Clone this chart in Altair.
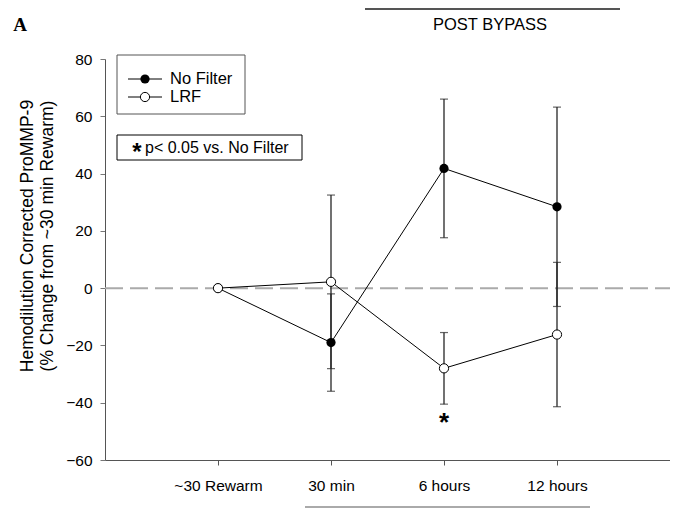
import altair as alt
import pandas as pd

time_pos = [1, 2, 3, 4]
time_labels = ["~30 Rewarm", "30 min", "6 hours", "12 hours"]
nf_mean = [0, -19.0, 41.8, 28.4]
nf_err = [0, 17.0, 24.2, 34.8]
lrf_mean = [0, 2.2, -28.0, -16.2]
lrf_err = [0, 30.3, 12.5, 25.2]
sig_pos = [3]
sig_y = [-45.5]

FONT = "Liberation Sans"

rows = []
for i, t in enumerate(time_pos):
    rows.append({"t": t, "group": "No Filter", "mean": nf_mean[i],
                 "lo": nf_mean[i] - nf_err[i], "hi": nf_mean[i] + nf_err[i], "err": nf_err[i]})
for i, t in enumerate(time_pos):
    rows.append({"t": t, "group": "LRF", "mean": lrf_mean[i],
                 "lo": lrf_mean[i] - lrf_err[i], "hi": lrf_mean[i] + lrf_err[i], "err": lrf_err[i]})
df = pd.DataFrame(rows)
err_df = df[df["err"] > 0]

label_map = "{" + ",".join(f"'{p}':'{l}'" for p, l in zip(time_pos, time_labels)) + "}"

xs = alt.Scale(domain=[0, 5], nice=False)
ys = alt.Scale(domain=[-60, 80], nice=False)

xenc = alt.X("t:Q", scale=xs, axis=alt.Axis(values=time_pos, labelExpr=f"{label_map}[datum.value]",
             title=None, grid=False, labelFont=FONT, labelFontSize=15.5, labelColor="black",
             tickSize=5, labelPadding=13, domainColor="#555", tickColor="#555", labelFlush=False))
yenc = alt.Y("mean:Q", scale=ys, axis=alt.Axis(values=[-60, -40, -20, 0, 20, 40, 60, 80],
             title=None, grid=False, labelFont=FONT, labelFontSize=15.5, labelColor="black",
             tickSize=5, labelPadding=8, domainColor="#555", tickColor="#777"))

base = alt.Chart(df)

zero_df = pd.DataFrame({"y": [0], "x0": [0], "x1": [5]})
zero_line = alt.Chart(zero_df).mark_rule(color="#aaaaaa", strokeWidth=2, strokeDash=[18, 7]).encode(
    x=alt.X("x0:Q", scale=xs), x2="x1:Q", y=alt.Y("y:Q", scale=ys))

err_rule = alt.Chart(err_df).mark_rule(color="#262626", strokeWidth=1.3).encode(
    x=alt.X("t:Q", scale=xs), y=alt.Y("lo:Q", scale=ys), y2="hi:Q")
cap_lo = alt.Chart(err_df).mark_tick(color="#262626", thickness=1.2, size=8, orient="horizontal").encode(
    x=alt.X("t:Q", scale=xs), y=alt.Y("lo:Q", scale=ys))
cap_hi = alt.Chart(err_df).mark_tick(color="#262626", thickness=1.2, size=8, orient="horizontal").encode(
    x=alt.X("t:Q", scale=xs), y=alt.Y("hi:Q", scale=ys))

nf = base.transform_filter(alt.datum.group == "No Filter")
lrf = base.transform_filter(alt.datum.group == "LRF")

nf_line = nf.mark_line(color="black", strokeWidth=1).encode(x=xenc, y=yenc)
nf_pts = nf.mark_point(filled=True, fill="black", color="black", size=85, opacity=1, strokeWidth=1).encode(
    x=alt.X("t:Q", scale=xs), y=alt.Y("mean:Q", scale=ys))
lrf_line = lrf.mark_line(color="black", strokeWidth=1).encode(x=alt.X("t:Q", scale=xs), y=alt.Y("mean:Q", scale=ys))
lrf_pts = lrf.mark_point(filled=True, fill="white", stroke="black", size=85, opacity=1, strokeWidth=1).encode(
    x=alt.X("t:Q", scale=xs), y=alt.Y("mean:Q", scale=ys))

sig_df = pd.DataFrame({"t": sig_pos, "y": sig_y})
sig = alt.Chart(sig_df).mark_text(text="*", fontSize=26, fontWeight="bold", font=FONT,
                                  baseline="middle", dy=5, color="black").encode(
    x=alt.X("t:Q", scale=xs), y=alt.Y("y:Q", scale=ys))

one = pd.DataFrame({"a": [0]})

def txt(s, x, y, **kw):
    return alt.Chart(one).mark_text(text=s, **kw).encode(x=alt.value(x), y=alt.value(y))

def rect(x, y, x2, y2, **kw):
    return alt.Chart(one).mark_rect(**kw).encode(x=alt.value(x), x2=alt.value(x2), y=alt.value(y), y2=alt.value(y2))

def hline(x, x2, y, **kw):
    return alt.Chart(one).mark_rule(**kw).encode(x=alt.value(x), x2=alt.value(x2), y=alt.value(y))

annots = [
    txt("Hemodilution Corrected ProMMP-9", -77, 177, angle=270, font=FONT, fontSize=17.5, align="center", baseline="middle"),
    txt("(% Change from ~30 min Rewarm)", -57, 177, angle=270, font=FONT, fontSize=17.5, align="center", baseline="middle"),
    txt("A", -85, -34, font="Liberation Serif", fontWeight="bold", fontSize=19, align="center", baseline="middle"),
    txt("POST BYPASS", 385, -34, font=FONT, fontSize=16.5, align="center", baseline="middle"),
    hline(260, 515, -50, color="#555", strokeWidth=2),
    hline(200, 485, 448, color="#aaaaaa", strokeWidth=2),
    rect(12, -4, 140, 55, fill="white", stroke="#555", strokeWidth=1),
    rect(12, 76, 197, 101, fill="white", stroke="black", strokeWidth=1),
    hline(23, 57, 20, color="black", strokeWidth=1),
    hline(23, 57, 38, color="black", strokeWidth=1),
    alt.Chart(one).mark_point(filled=True, fill="black", color="black", size=85, opacity=1).encode(x=alt.value(40), y=alt.value(20)),
    alt.Chart(one).mark_point(filled=True, fill="white", stroke="black", size=85, opacity=1, strokeWidth=1).encode(x=alt.value(40), y=alt.value(38)),
    txt("No Filter", 65, 20, font=FONT, fontSize=16.5, align="left", baseline="middle"),
    txt("LRF", 65, 38, font=FONT, fontSize=16.5, align="left", baseline="middle"),
    txt("*", 32, 94, font=FONT, fontSize=24, fontWeight="bold", align="center", baseline="middle"),
    txt("p< 0.05 vs. No Filter", 40, 89, font=FONT, fontSize=16, align="left", baseline="middle"),
]

chart = alt.layer(
    zero_line, err_rule, cap_lo, cap_hi, nf_line, nf_pts, lrf_line, lrf_pts, sig, *annots
).properties(
    width=565, height=401, autosize="none",
    padding={"left": 97, "top": 51, "right": 0, "bottom": 50},
).configure_view(stroke=None)

chart.save("out.html", embed_options={"renderer": "svg", "actions": False})
